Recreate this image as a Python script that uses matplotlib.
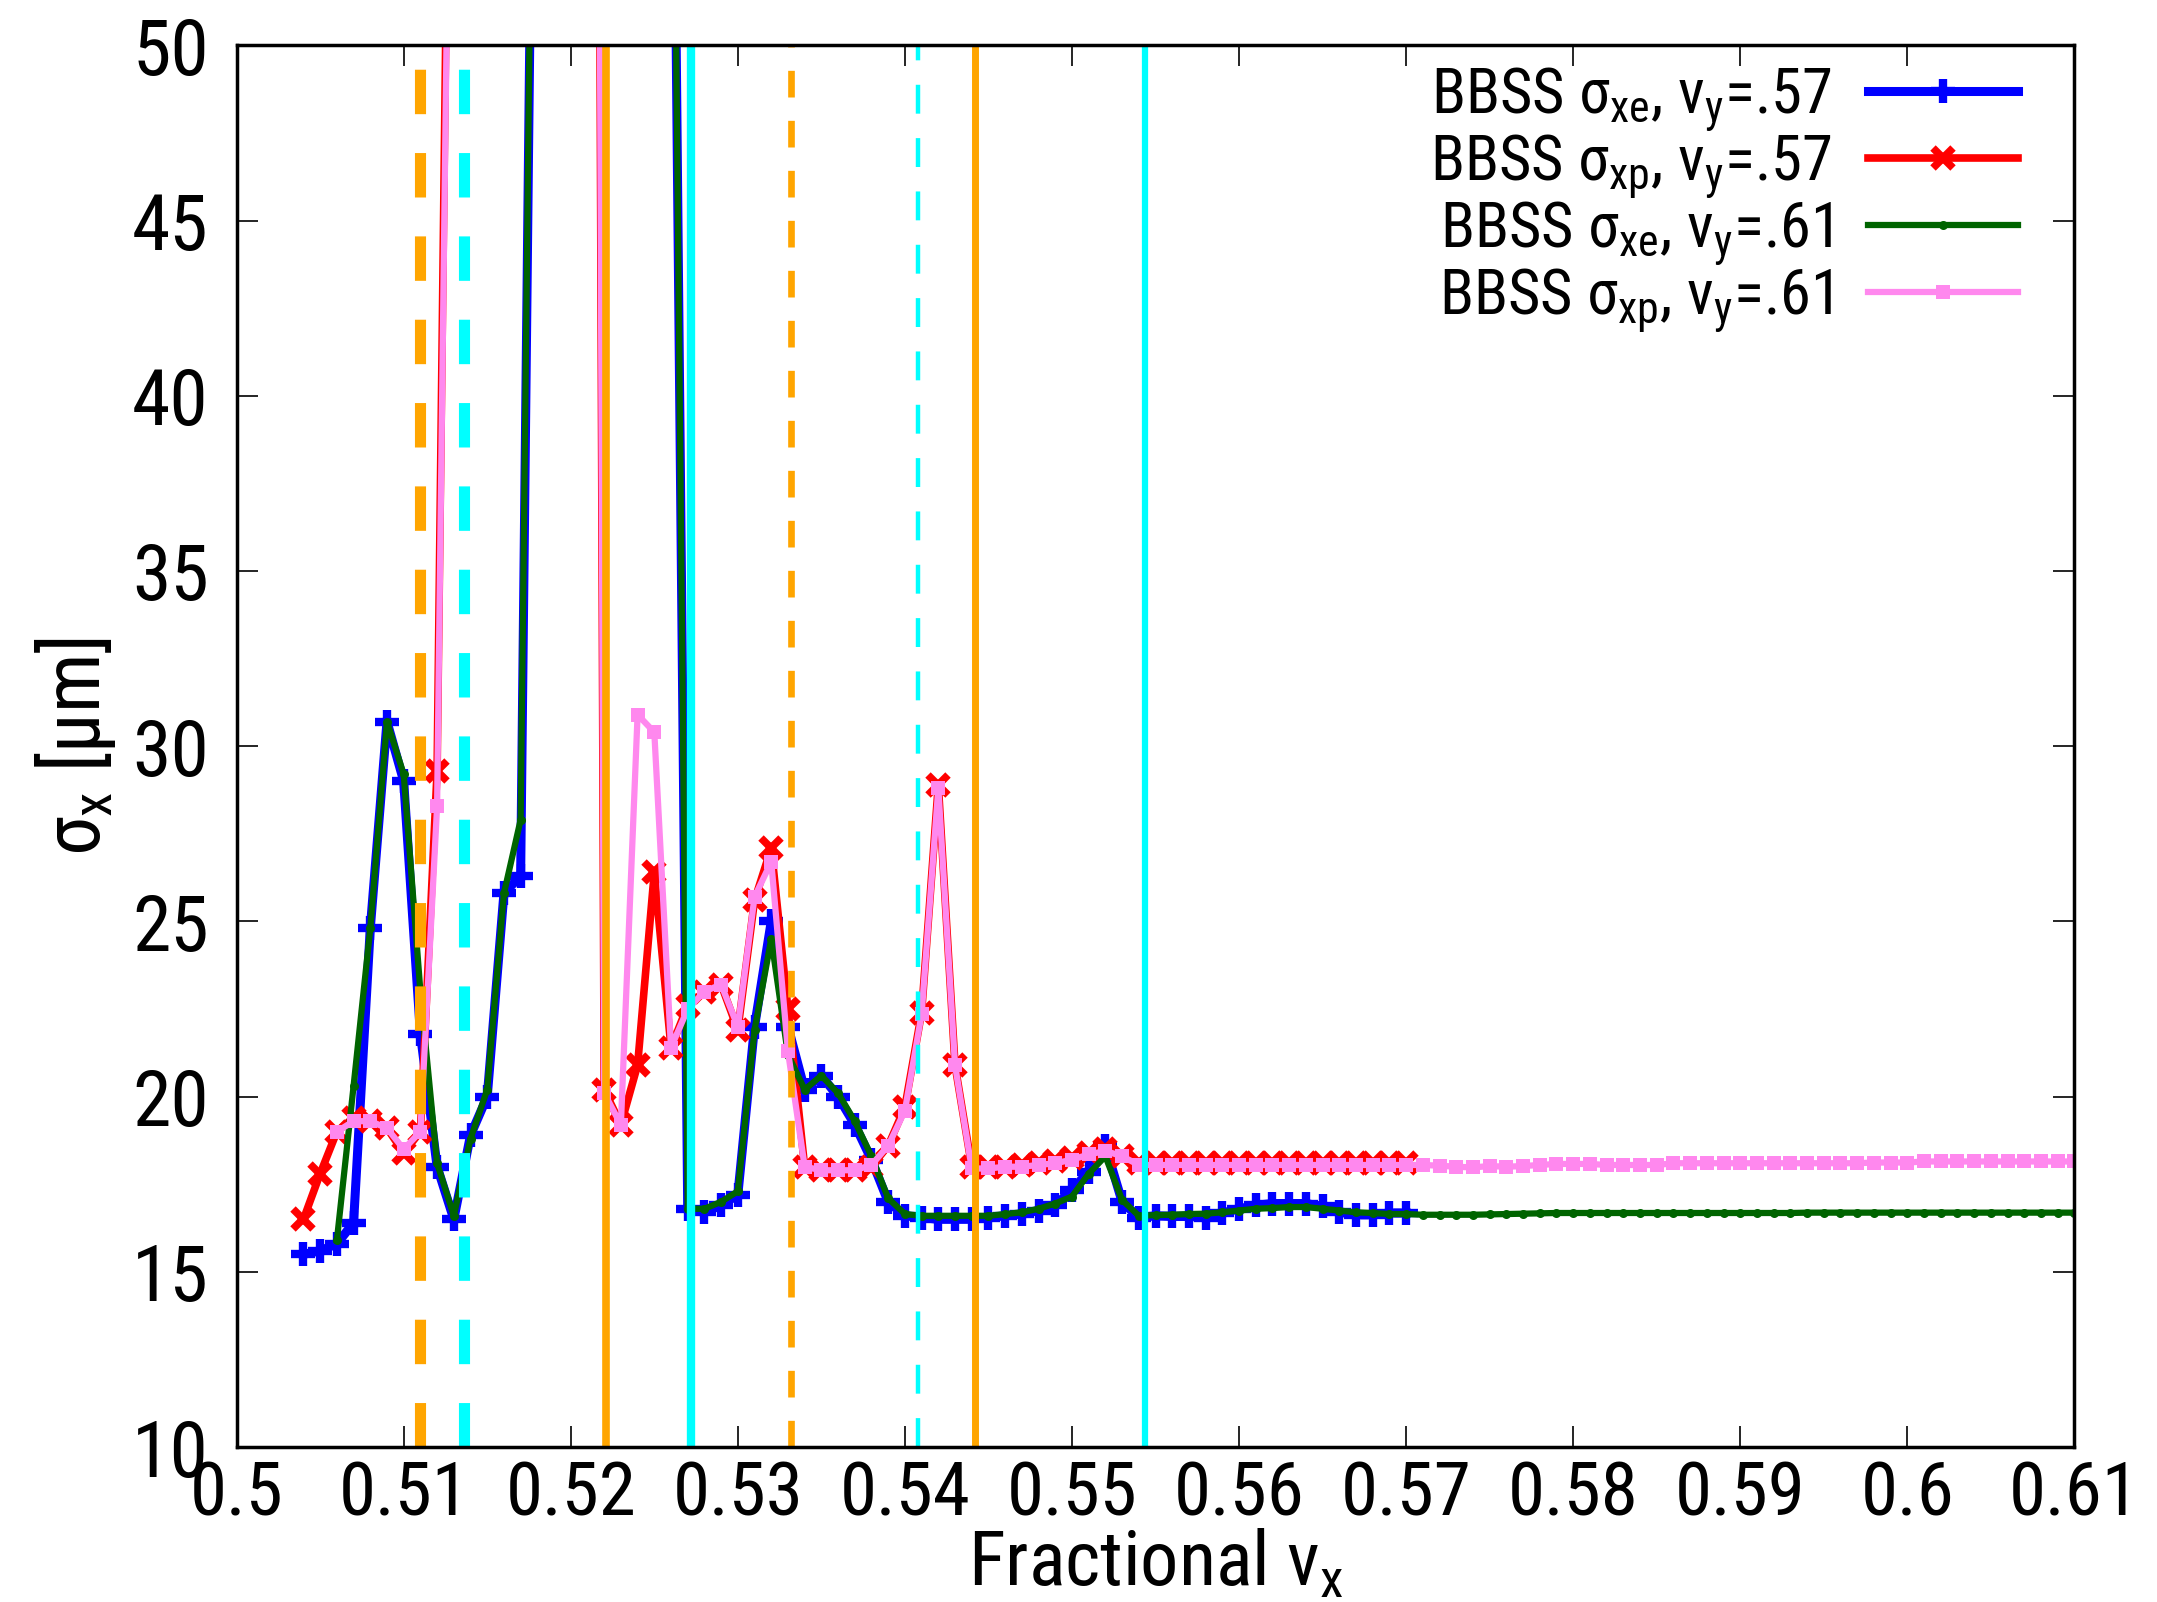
import os
import numpy as np
import matplotlib
matplotlib.use("Agg")
import matplotlib.pyplot as plt
from matplotlib import font_manager
from matplotlib.font_manager import FontProperties

# ---------------- data ----------------
# sigma_xe, nu_y = .57 (blue); points from 0.504 to 0.570 step 0.001
blue_x0 = 0.504
blue_y = [15.5, 15.6, 15.8, 16.4, 24.8, 30.7, 29.0, 21.8, 18.0, 16.5,
          18.9, 20.0, 25.8, 26.3,
          70, 90, 100, 100, 100, 100, 100, 90,   # off scale (>50)
          65, 16.8, 16.7, 16.9, 17.2, 22.0, 25.0, 22.0, 20.2, 20.6,
          20.0, 19.2, 18.2, 17.0, 16.6, 16.55, 16.5, 16.5, 16.5, 16.55,
          16.6, 16.65, 16.75, 16.9, 17.35, 17.85, 18.6, 17.0, 16.55, 16.6,
          16.58, 16.58, 16.55, 16.68, 16.8, 16.9, 16.95, 16.95, 16.95, 16.87,
          16.7, 16.63, 16.63, 16.68, 16.68]

# sigma_xp, nu_y = .57 (red); 0.504 .. 0.570
red_x0 = 0.504
red_y = [16.5, 17.8, 19.0, 19.4, 19.3, 19.1, 18.4, 19.0, 29.3,
         70, 100, 100, 100, 100, 100, 100, 100, 140,   # off scale (>50)
         20.2, 19.2, 20.9, 26.4, 21.4, 22.6, 23.0, 23.2, 21.9, 25.6,
         27.1, 22.5, 18.0, 17.9, 17.9, 17.9, 18.0, 18.6, 19.7, 22.4,
         28.9, 20.9, 18.0, 18.0, 18.0, 18.05, 18.1, 18.15, 18.25, 18.4,
         18.5, 18.3, 18.1, 18.1, 18.12, 18.12, 18.12, 18.12, 18.12, 18.12,
         18.12, 18.12, 18.12, 18.12, 18.12, 18.12, 18.12, 18.12, 18.12]

# sigma_xe, nu_y = .61 (green); 0.506 .. 0.610
green_x0 = 0.506
green_y = [15.9, 20.3, 24.8, 30.7, 29.2, 23.0, 18.1, 16.6, 18.8, 20.2,
           25.8, 27.9,
           70, 90, 100, 100, 100, 100, 100, 90,   # off scale (>50)
           65, 16.8, 16.8, 17.0, 17.3, 21.9, 24.5, 21.2, 20.2, 20.6,
           20.1, 19.3, 18.3, 17.1, 16.65, 16.6, 16.6, 16.6, 16.6, 16.6,
           16.65, 16.7, 16.8, 16.95, 17.15, 17.8, 18.3, 17.05, 16.6, 16.62,
           16.63, 16.65, 16.66, 16.7, 16.75, 16.8, 16.82, 16.85, 16.85, 16.8,
           16.75, 16.7, 16.68, 16.65, 16.65,
           16.63, 16.63, 16.63, 16.63, 16.64, 16.65, 16.66, 16.67, 16.68, 16.68,
           16.68, 16.68, 16.68, 16.68, 16.68, 16.68, 16.68, 16.68, 16.68, 16.68,
           16.68, 16.68, 16.68, 16.69, 16.69, 16.69, 16.69, 16.69, 16.69, 16.69,
           16.69, 16.69, 16.69, 16.69, 16.69, 16.69, 16.69, 16.69, 16.69, 16.69]

# sigma_xp, nu_y = .61 (violet); 0.506 .. 0.610
pink_x0 = 0.506
pink_y = [19.0, 19.3, 19.3, 19.1, 18.5, 19.0, 28.3,
          67, 100, 100, 100, 100, 100, 100, 100, 140,   # off scale (>50)
          20.1, 19.2, 30.9, 30.4, 21.4, 22.5, 23.0, 23.2, 22.0, 25.7,
          26.7, 21.3, 18.0, 17.9, 17.9, 17.9, 18.05, 18.6, 19.6, 22.35,
          28.8, 20.9, 17.95, 17.95, 18.0, 18.0, 18.05, 18.1, 18.2, 18.35,
          18.45, 18.3, 18.05, 18.05, 18.05, 18.05, 18.05, 18.05, 18.05, 18.05,
          18.05, 18.05, 18.05, 18.05, 18.05, 18.05, 18.05, 18.05, 18.05,
          18.05, 18.03, 18.0, 17.98, 18.02, 18.0, 18.02, 18.05, 18.08, 18.08,
          18.08, 18.05, 18.05, 18.05, 18.05, 18.1, 18.1, 18.1, 18.1, 18.1,
          18.1, 18.1, 18.1, 18.1, 18.1, 18.1, 18.1, 18.12, 18.12, 18.12,
          18.15, 18.15, 18.15, 18.15, 18.15, 18.15, 18.15, 18.15, 18.15, 18.15]

# resonance lines
orange_dashed_thick = 0.5110
cyan_dashed_thick = 0.5136
orange_solid_1 = 0.5221
cyan_solid_1 = 0.5272
orange_dashed_thin = 0.5332
cyan_dashed_thin = 0.5408
orange_solid_2 = 0.5442
cyan_solid_2 = 0.5544

labels = [r'BBSS $\sigma_{\mathrm{xe}}$, $\nu_{\mathrm{y}}$=.57',
          r'BBSS $\sigma_{\mathrm{xp}}$, $\nu_{\mathrm{y}}$=.57',
          r'BBSS $\sigma_{\mathrm{xe}}$, $\nu_{\mathrm{y}}$=.61',
          r'BBSS $\sigma_{\mathrm{xp}}$, $\nu_{\mathrm{y}}$=.61']

xticks = [0.5, 0.51, 0.52, 0.53, 0.54, 0.55, 0.56, 0.57, 0.58, 0.59, 0.6, 0.61]
xticklabels = ['0.5', '0.51', '0.52', '0.53', '0.54', '0.55', '0.56', '0.57',
               '0.58', '0.59', '0.6', '0.61']
yticks = [10, 15, 20, 25, 30, 35, 40, 45, 50]

# ---------------- fonts: look for a condensed sans ----------------
def find_condensed():
    prefs = ['liberationsansnarrow-regular', 'robotocondensed-regular',
             'roboto_condensed-regular', 'notosans-condensed.',
             'notosanscondensed-regular', 'opensans_condensed-regular',
             'opensanscondensed-regular', 'opensans-condensedregular',
             'dejavusanscondensed.']
    files = [f.fname for f in font_manager.fontManager.ttflist]
    for p in prefs:
        for fn in files:
            if p in os.path.basename(fn).lower().replace(' ', ''):
                return fn
    for fn in files:
        b = os.path.basename(fn).lower()
        if ('narrow' in b or 'condensed' in b) and not any(
                k in b for k in ('bold', 'italic', 'oblique', 'light', 'thin',
                                 'black', 'medium', 'semi', 'extra')):
            return fn
    return None


cond_file = find_condensed()
if cond_file:
    cfp = FontProperties(fname=cond_file)
    cond_name = cfp.get_name()
    fam_pattern = cond_name
    if 'DejaVu' in cond_name and 'ondensed' not in cond_name:
        fam_pattern = cond_name + ':stretch=condensed'
else:
    cond_name = 'Liberation Sans'
    fam_pattern = 'Liberation Sans'


def cprop(size):
    if cond_file:
        return FontProperties(fname=cond_file, size=size)
    return FontProperties(family='Liberation Sans', size=size)


plt.rcParams['font.family'] = ['Liberation Sans', 'DejaVu Sans']
plt.rcParams['mathtext.fontset'] = 'custom'
plt.rcParams['mathtext.rm'] = fam_pattern
plt.rcParams['mathtext.it'] = fam_pattern
plt.rcParams['mathtext.sf'] = fam_pattern
plt.rcParams['mathtext.bf'] = 'Liberation Sans:bold'


def xs(x0, ys):
    return np.round(x0 + 0.001 * np.arange(len(ys)), 4)


fig = plt.figure(figsize=(21.57, 16.02), dpi=100)
ax = fig.add_axes([0.1097, 0.0967, 0.852, 0.875])

ax.plot(xs(blue_x0, blue_y), blue_y, color='#0000ff', lw=6.5, marker='+',
        ms=17, mew=6, label=labels[0], zorder=3)
ax.plot(xs(red_x0, red_y), red_y, color='#ff0000', lw=5.5, marker='x',
        ms=14, mew=5.5, label=labels[1], zorder=4)
ax.plot(xs(green_x0, green_y), green_y, color='#006400', lw=4.5, marker='o',
        ms=6.5, mew=0, label=labels[2], zorder=5)
ax.plot(xs(pink_x0, pink_y), pink_y, color='#ff88ee', lw=4.5, marker='s',
        ms=10, mew=0, label=labels[3], zorder=6)

# vertical resonance lines (drawn in front)
ax.axvline(orange_dashed_thick, color='#ffa500', lw=8, dashes=(4.0, 3.5), zorder=10)
ax.axvline(cyan_dashed_thick, color='#00ffff', lw=8, dashes=(4.0, 3.5), zorder=10)
ax.axvline(orange_solid_1, color='#ffa500', lw=5.5, zorder=10)
ax.axvline(cyan_solid_1, color='#00ffff', lw=6, zorder=10)
ax.axvline(orange_dashed_thin, color='#ffa500', lw=4.8, dashes=(4.0, 3.5), zorder=10)
ax.axvline(cyan_dashed_thin, color='#00ffff', lw=3.2, dashes=(6.5, 5.5), zorder=10)
ax.axvline(orange_solid_2, color='#ffa500', lw=5, zorder=10)
ax.axvline(cyan_solid_2, color='#00ffff', lw=4.5, zorder=10)

ax.set_xlim(0.5, 0.61)
ax.set_ylim(10, 50)
ax.set_xticks(xticks)
ax.set_xticklabels(xticklabels, fontproperties=cprop(54))
ax.set_yticks(yticks)
ax.set_yticklabels([str(v) for v in yticks], fontproperties=cprop(56))
ax.tick_params(direction='in', length=15, width=1.2, top=True, right=True,
               color='black')
ax.tick_params(axis='y', pad=20)
ax.tick_params(axis='x', pad=9)
for s in ax.spines.values():
    s.set_linewidth(2.5)
    s.set_zorder(20)

ax.set_xlabel(r'Fractional $\nu_{\mathrm{x}}$', fontproperties=cprop(55),
              labelpad=-2)
ax.set_ylabel(r'$\sigma_{\mathrm{x}}$ [μm]', fontproperties=cprop(57),
              labelpad=10)

leg = ax.legend(loc='upper right', frameon=False, markerfirst=False,
                prop=cprop(45), handlelength=2.4, handletextpad=0.58,
                labelspacing=-0.02, borderaxespad=0.0,
                bbox_to_anchor=(0.983, 1.003), numpoints=1)

fig.savefig('out.png', dpi=100)
